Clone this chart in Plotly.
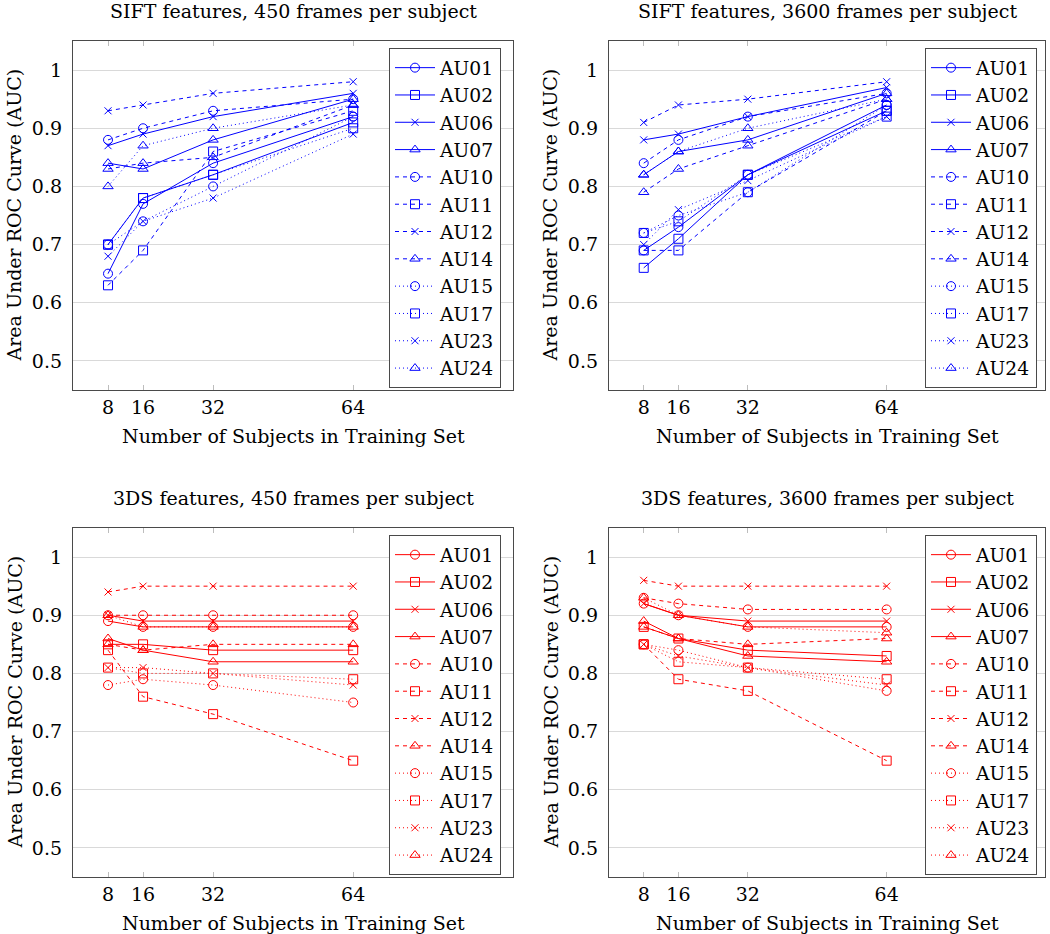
import plotly.graph_objects as go

W, H = 1050, 934

SUBJECTS = [8, 16, 32, 64]
AUS = ["AU01", "AU02", "AU06", "AU07", "AU10", "AU11",
       "AU12", "AU14", "AU15", "AU17", "AU23", "AU24"]

# AUC values, one row per AU (same order as AUS), columns = SUBJECTS
sift_450 = [
    [0.65, 0.77, 0.84, 0.92],
    [0.70, 0.78, 0.82, 0.91],
    [0.87, 0.89, 0.92, 0.96],
    [0.84, 0.83, 0.88, 0.95],
    [0.88, 0.90, 0.93, 0.95],
    [0.63, 0.69, 0.86, 0.93],
    [0.93, 0.94, 0.96, 0.98],
    [0.83, 0.84, 0.85, 0.94],
    [0.70, 0.74, 0.80, 0.92],
    [0.70, 0.78, 0.82, 0.90],
    [0.68, 0.74, 0.78, 0.89],
    [0.80, 0.87, 0.90, 0.94],
]
sift_3600 = [
    [0.69, 0.73, 0.82, 0.94],
    [0.66, 0.71, 0.82, 0.93],
    [0.88, 0.89, 0.92, 0.97],
    [0.82, 0.86, 0.88, 0.96],
    [0.84, 0.88, 0.92, 0.96],
    [0.69, 0.69, 0.79, 0.93],
    [0.91, 0.94, 0.95, 0.98],
    [0.79, 0.83, 0.87, 0.95],
    [0.72, 0.75, 0.79, 0.94],
    [0.72, 0.74, 0.82, 0.92],
    [0.70, 0.76, 0.81, 0.92],
    [0.82, 0.86, 0.90, 0.95],
]
tds_450 = [
    [0.89, 0.88, 0.88, 0.88],
    [0.85, 0.85, 0.84, 0.84],
    [0.90, 0.89, 0.89, 0.89],
    [0.86, 0.84, 0.82, 0.82],
    [0.90, 0.90, 0.90, 0.90],
    [0.84, 0.76, 0.73, 0.65],
    [0.94, 0.95, 0.95, 0.95],
    [0.85, 0.84, 0.85, 0.85],
    [0.78, 0.79, 0.78, 0.75],
    [0.81, 0.80, 0.80, 0.79],
    [0.81, 0.81, 0.80, 0.78],
    [0.90, 0.88, 0.88, 0.88],
]
tds_3600 = [
    [0.92, 0.90, 0.88, 0.88],
    [0.88, 0.86, 0.84, 0.83],
    [0.92, 0.90, 0.89, 0.89],
    [0.89, 0.86, 0.83, 0.82],
    [0.93, 0.92, 0.91, 0.91],
    [0.85, 0.79, 0.77, 0.65],
    [0.96, 0.95, 0.95, 0.95],
    [0.88, 0.86, 0.85, 0.86],
    [0.85, 0.84, 0.81, 0.77],
    [0.85, 0.82, 0.81, 0.79],
    [0.85, 0.83, 0.81, 0.78],
    [0.93, 0.90, 0.88, 0.87],
]

Y_TICKS = [0.5, 0.6, 0.7, 0.8, 0.9, 1.0]
Y_TICK_TEXT = ["0.5", "0.6", "0.7", "0.8", "0.9", "1"]

BLUE = "#0000ff"
RED = "#ff0000"
FRAME = "#4a4a4a"
GRID = "#d9d9d9"
FONT = "DejaVu Serif"
FS = 19

SYMBOLS = ["circle-open", "square-open", "x-thin", "triangle-up-open"]
DASHES = ["solid", "4px,4px", "1px,3px"]


def px(xp):
    return xp / W


def py(yp):
    return 1 - yp / H


# panel frames in pixels: (left, right, top, bottom)
panels = [
    ("SIFT features, 450 frames per subject", sift_450, BLUE, (73, 513, 41, 390)),
    ("SIFT features, 3600 frames per subject", sift_3600, BLUE, (609, 1045, 41, 390)),
    ("3DS features, 450 frames per subject", tds_450, RED, (73, 513, 528, 877)),
    ("3DS features, 3600 frames per subject", tds_3600, RED, (609, 1045, 528, 877)),
]

fig = go.Figure()
layout = {}
annotations = []

for i, (title, data, color, (l, r, t, b)) in enumerate(panels):
    n = "" if i == 0 else str(i + 1)
    xa, ya = "x" + n, "y" + n
    leg = "legend" + n

    for j, au in enumerate(AUS):
        sym = SYMBOLS[j % 4]
        fig.add_trace(
            go.Scatter(
                x=SUBJECTS,
                y=data[j],
                xaxis=xa,
                yaxis=ya,
                name=au,
                legend=leg,
                mode="lines+markers",
                line=dict(color=color, width=1, dash=DASHES[j // 4]),
                marker=dict(
                    symbol=sym,
                    size=7 if sym == "x-thin" else 9,
                    color=color,
                    line=dict(color=color, width=1),
                ),
                hoverinfo="skip",
            )
        )

    layout["xaxis" + n] = dict(
        domain=[px(l), px(r)],
        anchor=ya,
        range=[0, 100.5],
        tickvals=SUBJECTS,
        ticktext=[str(s) for s in SUBJECTS],
        ticks="inside",
        ticklen=5,
        tickcolor="#bdbdbd",
        showgrid=False,
        zeroline=False,
        showline=True,
        linecolor=FRAME,
        linewidth=1.3,
        mirror="ticks",
        tickfont=dict(family=FONT, size=FS, color="black"),
        fixedrange=True,
    )
    layout["yaxis" + n] = dict(
        domain=[py(b), py(t)],
        anchor=xa,
        range=[0.45, 1.05],
        tickvals=Y_TICKS,
        ticktext=Y_TICK_TEXT,
        ticks="",
        showgrid=True,
        gridcolor=GRID,
        gridwidth=1,
        zeroline=False,
        showline=True,
        linecolor=FRAME,
        linewidth=1.3,
        mirror=True,
        ticklabelstandoff=6,
        tickfont=dict(family=FONT, size=FS, color="black"),
        fixedrange=True,
    )
    layout[leg] = dict(
        x=px(l + 316),
        y=py(t + 7),
        xanchor="left",
        yanchor="top",
        bgcolor="white",
        bordercolor=FRAME,
        borderwidth=1,
        font=dict(family=FONT, size=18.7, color="black"),
        tracegroupgap=0,
        itemwidth=40,
    )

    cx = px((l + r) / 2)
    annotations.append(dict(
        x=cx, y=py(t - 30), xref="paper", yref="paper",
        text=title, showarrow=False, xanchor="center", yanchor="middle",
        font=dict(family=FONT, size=FS, color="black"),
    ))
    annotations.append(dict(
        x=cx, y=py(b + 46), xref="paper", yref="paper",
        text="Number of Subjects in Training Set", showarrow=False,
        xanchor="center", yanchor="middle",
        font=dict(family=FONT, size=FS, color="black"),
    ))
    annotations.append(dict(
        x=px(l - 59), y=py((t + b) / 2), xref="paper", yref="paper",
        text="Area Under ROC Curve (AUC)", showarrow=False, textangle=-90,
        xanchor="center", yanchor="middle",
        font=dict(family=FONT, size=FS, color="black"),
    ))

fig.update_layout(
    width=W,
    height=H,
    margin=dict(l=0, r=0, t=0, b=0),
    paper_bgcolor="white",
    plot_bgcolor="white",
    showlegend=True,
    annotations=annotations,
    **layout,
)

# drop the default page margin so the figure fills the window exactly
fig.write_html(
    "out.html",
    config={"displayModeBar": False},
    post_script="document.body.style.margin = '0';",
)
